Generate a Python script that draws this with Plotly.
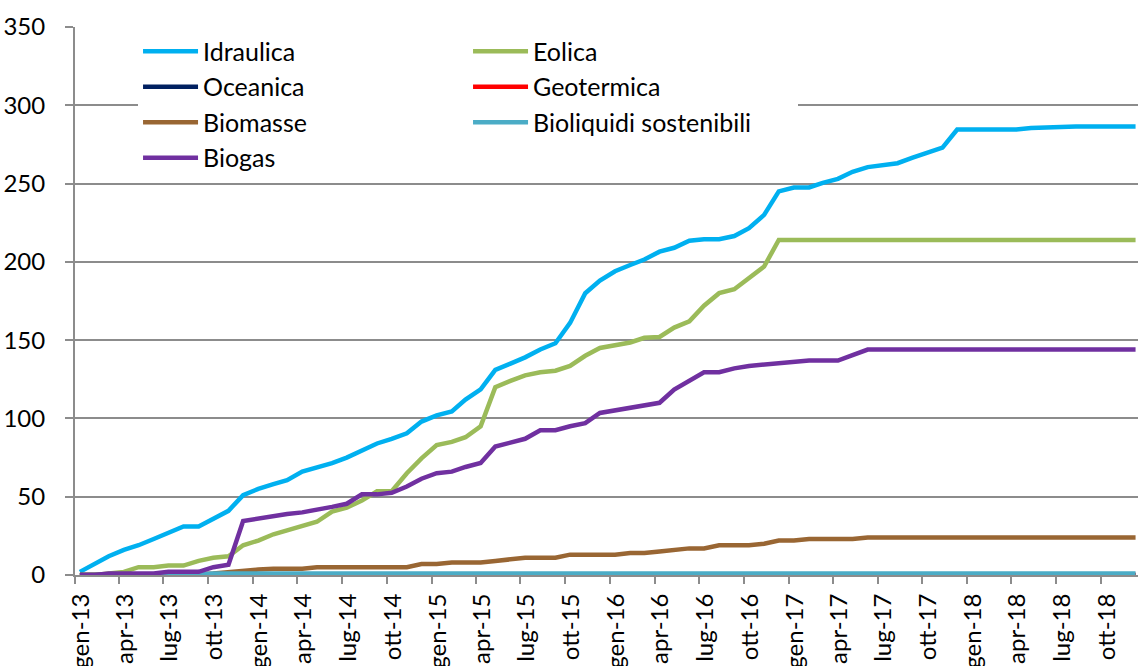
import pandas as pd
import plotly.graph_objects as go

# ---- data (monthly, gen-13 ... dic-18) ----
months = pd.date_range("2013-01-01", periods=72, freq="MS")
dates = months + pd.Timedelta(days=10)

idraulica = [2, 7, 12, 16, 19, 23, 27, 31, 31, 36, 41, 51, 55, 58, 60.5, 66, 68.5, 71.5,
             75, 79.5, 84, 87, 90.5, 98, 102, 104.5, 112, 118.5, 131, 135, 139, 144, 148, 161,
             180, 188, 194, 198, 201.5, 206.5, 209, 213.5, 214.5, 214.5, 216.5, 221.5, 230, 245,
             247.5, 247.5, 250.5, 253, 257.5, 260.5, 262, 263, 266.5, 270, 273, 284.5, 284.5, 284.5,
             284.5, 284.5, 285.5, 286, 286.5, 286.5, 286.5, 286.5, 286.5, 286.5]
eolica = [0, 0, 1, 2, 5, 5, 6, 6, 9, 11, 12, 19, 22, 26, 28.5, 31, 34, 40.5,
          43, 47.5, 53.5, 53.5, 65, 74.5, 83, 85, 88, 95, 120, 124, 127.5, 129.5, 130.5, 133.5,
          140, 145, 146.5, 148.5, 151.5, 152, 158, 162, 172, 180, 182.5, 189.5, 197, 214,
          214, 214, 214, 214, 214, 214, 214, 214, 214, 214, 214, 214, 214, 214,
          214, 214, 214, 214, 214, 214, 214, 214, 214, 214]
oceanica = [0] * 72
geotermica = [0] * 72
biomasse = [0, 0, 0, 0, 0, 0, 0, 0, 0.5, 1, 2, 3, 3.5, 4, 4, 4, 5, 5,
            5, 5, 5, 5, 5, 7, 7, 8, 8, 8, 9, 10, 11, 11, 11, 13,
            13, 13, 13, 14, 14, 15, 16, 17, 17, 19, 19, 19, 20, 22,
            22, 23, 23, 23, 23, 24, 24, 24, 24, 24, 24, 24, 24, 24,
            24, 24, 24, 24, 24, 24, 24, 24, 24, 24]
bioliquidi = [0, 0, 0, 0, 0, 0, 0, 0, 0.5] + [1] * 63
biogas = [0, 0, 1, 1, 1, 1, 2, 2, 2, 5, 6.5, 34.5, 36, 38, 39, 40, 41.5, 43.5,
          45.5, 51.5, 51.5, 52.5, 56.5, 61.5, 65, 66, 69, 71.5, 82, 84.5, 87, 92.5, 92.5, 95,
          97, 103.5, 105, 106.5, 108, 110, 118.5, 124.5, 129.5, 129.5, 132, 133.5, 134.5, 135.5,
          136.5, 137, 137, 137, 140.5, 144, 144, 144, 144, 144, 144, 144, 144, 144,
          144, 144, 144, 144, 144, 144, 144, 144, 144, 144]

tick_dates = months[::3]
tick_labels = ["gen-13", "apr-13", "lug-13", "ott-13", "gen-14", "apr-14", "lug-14", "ott-14",
               "gen-15", "apr-15", "lug-15", "ott-15", "gen-16", "apr-16", "lug-16", "ott-16",
               "gen-17", "apr-17", "lug-17", "ott-17", "gen-18", "apr-18", "lug-18", "ott-18"]

# name, values, colour, legend column
series = [
    ("Idraulica", idraulica, "#00B0F0", "col1"),
    ("Eolica", eolica, "#9BBB59", "col2"),
    ("Oceanica", oceanica, "#002060", "col1"),
    ("Geotermica", geotermica, "#FF0000", "col2"),
    ("Biomasse", biomasse, "#996633", "col1"),
    ("Bioliquidi sostenibili", bioliquidi, "#4BACC6", "col2"),
    ("Biogas", biogas, "#7030A0", "col1"),
]

fig = go.Figure()
for name, vals, color, col in series:
    fig.add_trace(go.Scatter(x=dates, y=vals, name=name, mode="lines",
                             line=dict(color=color, width=4.5),
                             legendgroup=col))

FONT = "Lato"
grid = "#8C8C8C"

fig.update_layout(
    width=1138, height=666,
    margin=dict(l=75, r=0, t=27, b=91),
    paper_bgcolor="white", plot_bgcolor="white",
    font=dict(family=FONT, size=24, color="black"),
    legend=dict(orientation="h", traceorder="grouped", itemwidth=55,
                entrywidth=260, entrywidthmode="pixels",
                x=0.0593, y=0.9973, xanchor="left", yanchor="top",
                bgcolor="white", borderwidth=0,
                font=dict(family=FONT, size=25, color="black")),
    xaxis=dict(type="date", range=["2013-01-01", "2018-12-16"], automargin=False,
               tickmode="array", tickvals=tick_dates, ticktext=tick_labels,
               tickangle=-90, ticks="outside", ticklen=7, tickcolor=grid, tickwidth=1.5,
               showgrid=False, showline=True, linecolor=grid, linewidth=2,
               tickfont=dict(family=FONT, size=24, color="black"), ticklabelshift=6),
    yaxis=dict(range=[0, 350], dtick=50, tick0=0, automargin=False,
               showgrid=True, gridcolor=grid, gridwidth=2,
               ticks="outside", ticklen=8, tickcolor=grid, tickwidth=1.5,
               showline=True, linecolor=grid, linewidth=2, zeroline=False,
               tickfont=dict(family=FONT, size=24, color="black"), ticklabelstandoff=15),
)

fig.write_html("out.html", config={"displayModeBar": False},
               post_script="document.body.style.margin='0';")
